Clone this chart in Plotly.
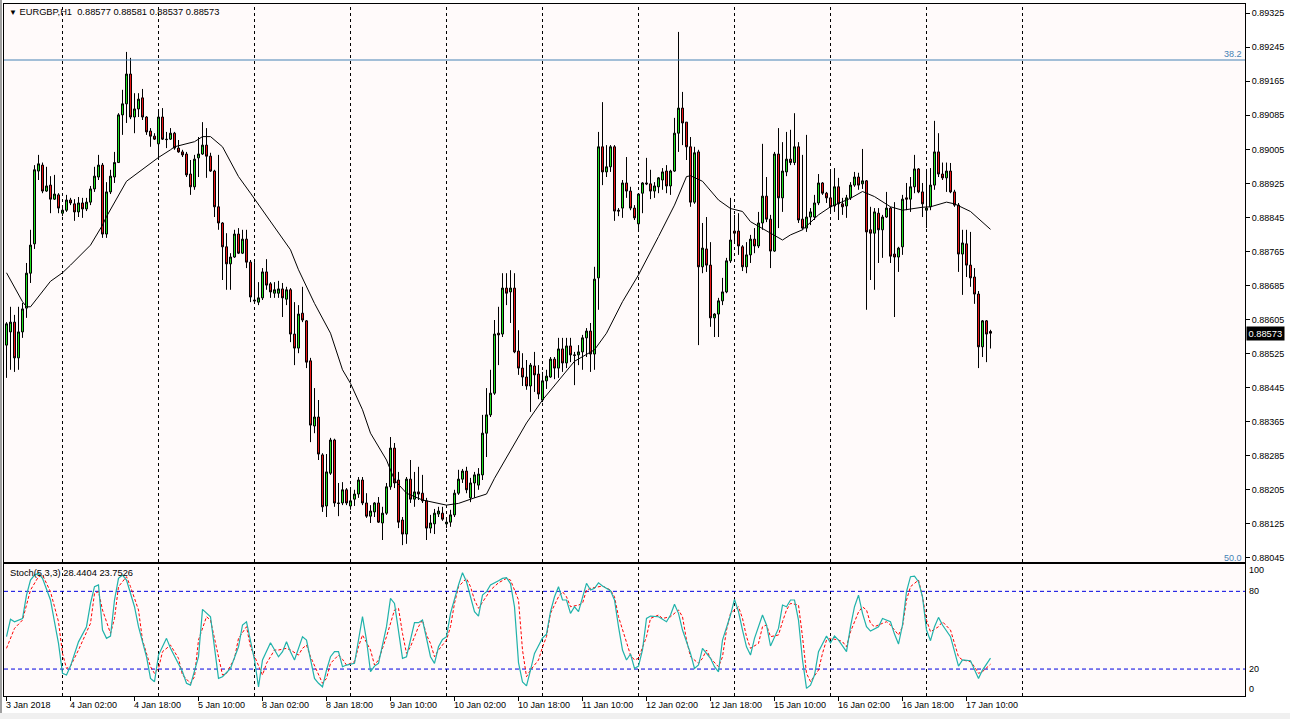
import plotly.graph_objects as go

# ---------------- data (EURGBP H1) ----------------
open_ = [0.88545,0.88576,0.88599,0.88515,0.88576,0.88632,0.88714,0.88783,0.88954,0.88968,
         0.88907,0.88921,0.88888,0.88898,0.88855,0.88862,0.88886,0.88877,0.88858,0.88879,
         0.88865,0.88881,0.88912,0.88940,0.88968,0.88806,0.88905,0.88940,0.88974,0.89086,
         0.89112,0.89182,0.89081,0.89100,0.89126,0.89081,0.89048,0.89036,0.89018,0.89081,
         0.89029,0.89029,0.89043,0.89008,0.88999,0.88994,0.88947,0.88917,0.88985,0.88994,
         0.89015,0.88989,0.88954,0.88870,0.88832,0.88776,0.88736,0.88752,0.88806,0.88761,
         0.88794,0.88740,0.88651,0.88646,0.88656,0.88717,0.88689,0.88667,0.88667,0.88677,
         0.88653,0.88675,0.88571,0.88538,0.88620,0.88602,0.88508,0.88355,0.88376,0.88287,
         0.88167,0.88244,0.88322,0.88174,0.88174,0.88205,0.88167,0.88183,0.88195,0.88228,
         0.88174,0.88143,0.88153,0.88174,0.88127,0.88150,0.88212,0.88303,0.88228,0.88134,
         0.88101,0.88230,0.88183,0.88200,0.88197,0.88179,0.88115,0.88125,0.88148,0.88150,
         0.88125,0.88129,0.88146,0.88197,0.88230,0.88249,0.88186,0.88221,0.88216,0.88240,
         0.88338,0.88381,0.88432,0.88573,0.88571,0.88679,0.88670,0.88679,0.88531,0.88491,
         0.88470,0.88449,0.88496,0.88477,0.88416,0.88461,0.88470,0.88512,0.88491,0.88536,
         0.88503,0.88543,0.88522,0.88522,0.88529,0.88562,0.88578,0.88524,0.88703,0.89011,
         0.88952,0.88964,0.89011,0.88862,0.88867,0.88926,0.88907,0.88867,0.88830,0.88902,
         0.88926,0.88924,0.88907,0.88917,0.88933,0.88954,0.88919,0.88954,0.89043,0.89102,
         0.89069,0.89011,0.88881,0.88999,0.88729,0.88771,0.88733,0.88609,0.88618,0.88649,
         0.88670,0.88743,0.88813,0.88813,0.88776,0.88729,0.88757,0.88794,0.88778,0.88832,
         0.88895,0.88841,0.88766,0.88994,0.88891,0.88952,0.88982,0.88974,0.89011,0.88841,
         0.88820,0.88846,0.88846,0.88879,0.88926,0.88902,0.88891,0.88872,0.88917,0.88877,
         0.88872,0.88891,0.88921,0.88940,0.88924,0.88931,0.88816,0.88808,0.88855,0.88816,
         0.88846,0.88867,0.88759,0.88752,0.88776,0.88891,0.88888,0.88917,0.88959,0.88905,
         0.88862,0.88870,0.88921,0.88999,0.88947,0.88938,0.88954,0.88905,0.88874,0.88759,
         0.88783,0.88733,0.88705,0.88665,0.88541,0.88602,0.88577]
high = [0.88599,0.88635,0.88616,0.88635,0.88644,0.88738,0.88816,0.88968,0.88992,0.88974,
        0.88964,0.88942,0.88945,0.88902,0.88867,0.88898,0.88891,0.88888,0.88893,0.88891,
        0.88891,0.88919,0.88964,0.88992,0.88973,0.88928,0.88957,0.88999,0.89090,0.89145,
        0.89234,0.89220,0.89137,0.89137,0.89147,0.89083,0.89055,0.89043,0.89093,0.89102,
        0.89046,0.89055,0.89046,0.89027,0.89004,0.88999,0.88980,0.88992,0.89034,0.89069,
        0.89055,0.88997,0.88957,0.88992,0.88834,0.88808,0.88761,0.88816,0.88820,0.88816,
        0.88816,0.88745,0.88740,0.88693,0.88726,0.88747,0.88693,0.88693,0.88696,0.88691,
        0.88682,0.88679,0.88646,0.88639,0.88682,0.88604,0.88515,0.88444,0.88416,0.88291,
        0.88289,0.88327,0.88325,0.88221,0.88223,0.88209,0.88205,0.88205,0.88235,0.88235,
        0.88197,0.88169,0.88176,0.88188,0.88165,0.88221,0.88329,0.88315,0.88247,0.88141,
        0.88235,0.88275,0.88247,0.88259,0.88240,0.88186,0.88146,0.88160,0.88165,0.88165,
        0.88141,0.88158,0.88205,0.88252,0.88254,0.88259,0.88233,0.88247,0.88256,0.88381,
        0.88444,0.88487,0.88604,0.88635,0.88714,0.88714,0.88721,0.88714,0.88580,0.88526,
        0.88510,0.88503,0.88529,0.88498,0.88482,0.88487,0.88517,0.88517,0.88562,0.88562,
        0.88562,0.88562,0.88529,0.88545,0.88569,0.88585,0.88597,0.88729,0.89046,0.89116,
        0.89015,0.89015,0.89015,0.88867,0.88933,0.88987,0.88917,0.88874,0.88902,0.88928,
        0.88985,0.88957,0.88928,0.88940,0.88961,0.88968,0.88957,0.89079,0.89281,0.89140,
        0.89069,0.89034,0.89011,0.89004,0.88832,0.88846,0.88787,0.88620,0.88656,0.88703,
        0.88750,0.88891,0.88851,0.88855,0.88780,0.88787,0.88804,0.88820,0.88858,0.89018,
        0.88940,0.88851,0.88999,0.89055,0.89022,0.89046,0.89051,0.89090,0.89022,0.88992,
        0.89039,0.88867,0.88898,0.88947,0.88928,0.88905,0.88952,0.88961,0.88938,0.88891,
        0.88898,0.88928,0.88952,0.88950,0.89006,0.88933,0.88870,0.88867,0.88867,0.88851,
        0.88905,0.88870,0.88881,0.88776,0.88898,0.88926,0.88940,0.88992,0.88961,0.88926,
        0.88959,0.88961,0.89072,0.89043,0.88974,0.88974,0.88973,0.88910,0.88879,0.88816,
        0.88816,0.88811,0.88726,0.88672,0.88604,0.88604,0.88581]
low = [0.88468,0.88487,0.88482,0.88487,0.88562,0.88609,0.88691,0.88771,0.88933,0.88902,
       0.88905,0.88855,0.88886,0.88855,0.88848,0.88858,0.88874,0.88837,0.88846,0.88844,
       0.88860,0.88874,0.88905,0.88933,0.88797,0.88797,0.88900,0.88926,0.88973,0.89039,
       0.89067,0.89076,0.89043,0.89081,0.89074,0.89039,0.89011,0.89027,0.88987,0.89027,
       0.89008,0.89027,0.89004,0.88997,0.88987,0.88940,0.88898,0.88910,0.88940,0.88992,
       0.88938,0.88952,0.88846,0.88816,0.88698,0.88675,0.88675,0.88750,0.88759,0.88759,
       0.88726,0.88646,0.88644,0.88639,0.88651,0.88675,0.88656,0.88656,0.88656,0.88611,
       0.88639,0.88552,0.88498,0.88526,0.88599,0.88491,0.88317,0.88338,0.88275,0.88153,
       0.88141,0.88240,0.88165,0.88143,0.88169,0.88169,0.88158,0.88167,0.88186,0.88169,
       0.88139,0.88127,0.88141,0.88127,0.88087,0.88146,0.88205,0.88209,0.88115,0.88075,
       0.88078,0.88174,0.88165,0.88181,0.88174,0.88087,0.88103,0.88101,0.88141,0.88132,
       0.88115,0.88118,0.88141,0.88193,0.88221,0.88197,0.88176,0.88186,0.88205,0.88228,
       0.88282,0.88376,0.88428,0.88498,0.88564,0.88639,0.88597,0.88526,0.88475,0.88449,
       0.88440,0.88388,0.88435,0.88418,0.88411,0.88442,0.88468,0.88465,0.88468,0.88482,
       0.88491,0.88505,0.88451,0.88498,0.88487,0.88517,0.88482,0.88487,0.88628,0.88921,
       0.88940,0.88952,0.88837,0.88848,0.88844,0.88891,0.88862,0.88839,0.88818,0.88855,
       0.88921,0.88888,0.88891,0.88902,0.88910,0.88902,0.88898,0.88952,0.88999,0.89015,
       0.88980,0.88870,0.88877,0.88545,0.88714,0.88717,0.88588,0.88564,0.88564,0.88639,
       0.88667,0.88738,0.88787,0.88757,0.88719,0.88714,0.88738,0.88761,0.88773,0.88816,
       0.88834,0.88726,0.88764,0.88820,0.88858,0.88942,0.88968,0.88968,0.88832,0.88816,
       0.88811,0.88827,0.88839,0.88874,0.88898,0.88879,0.88855,0.88858,0.88839,0.88851,
       0.88844,0.88886,0.88917,0.88910,0.88912,0.88628,0.88698,0.88675,0.88738,0.88750,
       0.88844,0.88738,0.88611,0.88717,0.88757,0.88862,0.88858,0.88902,0.88902,0.88846,
       0.88820,0.88862,0.88910,0.88940,0.88933,0.88905,0.88902,0.88870,0.88717,0.88663,
       0.88705,0.88682,0.88642,0.88491,0.88517,0.88505,0.88537]
close = [0.88595,0.88599,0.88515,0.88576,0.88630,0.88714,0.88780,0.88957,0.88971,0.88907,
         0.88919,0.88888,0.88900,0.88867,0.88862,0.88886,0.88879,0.88858,0.88879,0.88865,
         0.88881,0.88912,0.88942,0.88968,0.88806,0.88905,0.88942,0.88974,0.89086,0.89112,
         0.89182,0.89081,0.89100,0.89123,0.89081,0.89046,0.89036,0.89029,0.89081,0.89029,
         0.89028,0.89043,0.89008,0.88999,0.88992,0.88945,0.88917,0.88982,0.88994,0.89015,
         0.88989,0.88954,0.88870,0.88832,0.88776,0.88736,0.88752,0.88806,0.88761,0.88794,
         0.88740,0.88658,0.88649,0.88656,0.88717,0.88686,0.88670,0.88675,0.88677,0.88656,
         0.88675,0.88571,0.88538,0.88618,0.88604,0.88505,0.88357,0.88376,0.88289,0.88165,
         0.88247,0.88322,0.88174,0.88173,0.88205,0.88174,0.88179,0.88195,0.88228,0.88174,
         0.88143,0.88155,0.88174,0.88129,0.88150,0.88212,0.88303,0.88221,0.88129,0.88101,
         0.88230,0.88183,0.88200,0.88195,0.88179,0.88115,0.88127,0.88150,0.88155,0.88136,
         0.88129,0.88146,0.88197,0.88230,0.88249,0.88205,0.88221,0.88240,0.88242,0.88338,
         0.88381,0.88432,0.88571,0.88569,0.88679,0.88667,0.88679,0.88529,0.88491,0.88470,
         0.88449,0.88498,0.88475,0.88430,0.88461,0.88472,0.88512,0.88491,0.88536,0.88503,
         0.88543,0.88522,0.88521,0.88529,0.88562,0.88578,0.88524,0.88700,0.89011,0.88952,
         0.88964,0.89011,0.88860,0.88860,0.88926,0.88907,0.88867,0.88844,0.88900,0.88926,
         0.88924,0.88907,0.88919,0.88938,0.88952,0.88919,0.88954,0.89043,0.89102,0.89067,
         0.89011,0.88881,0.88997,0.88729,0.88773,0.88733,0.88609,0.88618,0.88649,0.88670,
         0.88743,0.88792,0.88808,0.88778,0.88729,0.88757,0.88794,0.88778,0.88832,0.88895,
         0.88841,0.88766,0.88994,0.88891,0.88954,0.88982,0.88974,0.89011,0.88839,0.88820,
         0.88846,0.88858,0.88879,0.88926,0.88902,0.88891,0.88870,0.88917,0.88877,0.88870,
         0.88891,0.88921,0.88940,0.88921,0.88931,0.88811,0.88808,0.88858,0.88816,0.88846,
         0.88867,0.88754,0.88752,0.88773,0.88888,0.88888,0.88917,0.88959,0.88905,0.88877,
         0.88867,0.88921,0.88999,0.88947,0.88938,0.88954,0.88905,0.88874,0.88759,0.88785,
         0.88733,0.88703,0.88665,0.88541,0.88602,0.88571,0.88573]

# moving average (read at turning points)
ma_x = [0, 4, 5, 6, 11, 14, 16, 21, 24, 25, 30, 34, 38, 41, 42, 47, 49, 51, 54, 58, 61, 71, 73, 77,
        81, 84, 86, 89, 91, 95, 97, 100, 104, 110, 113, 117, 120, 122, 130, 134, 142, 147, 150, 154,
        158, 163, 167, 170, 171, 174, 178, 181, 184, 186, 191, 194, 196, 199, 203, 206, 211, 214,
        217, 221, 224, 229, 231, 235, 237, 241, 246]
ma_val = [0.88715, 0.88647, 0.88635, 0.88635, 0.88695, 0.88715, 0.88733, 0.88780, 0.88827, 0.88847,
          0.88930, 0.88957, 0.88986, 0.89004, 0.89011, 0.89023, 0.89035, 0.89035, 0.89011, 0.88941,
          0.88902, 0.88769, 0.88722, 0.88643, 0.88573, 0.88487, 0.88455, 0.88393, 0.88338, 0.88275,
          0.88228, 0.88197, 0.88181, 0.88169, 0.88173, 0.88186, 0.88195, 0.88232, 0.88362, 0.88416,
          0.88507, 0.88534, 0.88573, 0.88647, 0.88710, 0.88800, 0.88874, 0.88941, 0.88943, 0.88930,
          0.88886, 0.88866, 0.88859, 0.88835, 0.88808, 0.88792, 0.88804, 0.88816, 0.88851, 0.88870,
          0.88890, 0.88906, 0.88894, 0.88870, 0.88862, 0.88869, 0.88870, 0.88881, 0.88877, 0.88859,
          0.88817]

# Stochastic(5,3,3)
k_x = [0,1,2,3,4,5,6,7,8,9,11,12,13,14,15,16,18,20,21,22,23,24,25,26,27,28,29,30,32,33,35,36,37,38,
       40,41,44,45,46,48,49,51,52,53,54,56,58,59,60,61,62,63,64,66,67,68,69,70,71,72,73,74,75,76,77,
       78,79,80,81,82,83,84,85,87,88,89,90,91,92,93,95,96,97,98,99,100,102,103,104,106,107,108,109,
       110,111,113,114,115,116,117,118,119,120,121,123,124,125,126,127,128,129,130,131,132,133,134,
       135,136,137,138,139,140,141,142,143,144,145,146,147,148,149,151,152,153,154,155,156,157,158,
       159,160,161,163,165,166,167,168,169,171,172,173,174,176,177,178,179,181,182,183,184,185,186,
       187,189,190,191,192,193,194,195,196,197,198,199,200,201,202,203,205,206,207,208,210,211,212,
       213,214,215,216,218,219,221,222,223,224,225,226,227,228,229,230,231,232,233,234,236,238,239,
       241,242,243,244,246]
stoch_k = [45,58.4,56.5,57.8,59,77,88.7,92.6,93.9,90,73.3,56.5,39.8,16.7,15.4,22.3,41,52.7,70.7,83.6,
           84.9,50.1,43.7,45.5,73.3,90,92.6,88.7,68.1,52.7,29.5,12.8,10.2,30.8,43.7,36,17.9,9,7.6,29.5,
           66.1,60.4,37.2,12.8,14.1,20.5,37.2,54,56.5,42.4,27,6.3,27,40.3,34.7,29.5,33.4,41.1,33.4,27,
           36,44.9,42.4,27,12.8,9,6.3,19.2,29.5,33.4,33.4,21.8,23.1,24.4,42.4,60.4,42.4,17.9,22.3,24.4,
           52.7,74.6,70.7,47.5,28.3,29.5,55.8,55.8,57.8,29.5,24.4,37.2,42.9,45,63,84.9,94.4,87.4,75.8,
           64.3,60.9,77.1,79.7,84.9,88.2,90,90.5,86,68,25,10,7,19.2,32.1,38,44,47,64.3,75.8,83.6,73.3,
           73.3,63,68.1,64.3,75.8,86.2,81,82.3,86.6,84.1,80.5,73.3,52.7,34.7,27,31.6,20.5,22.3,34.7,
           59.1,60.9,60.4,56.5,61.7,70,63,50.1,32.1,20.5,23.1,36,28.3,21.8,17.9,42.4,61.7,73.8,64.3,
           50.1,37.2,30.8,43.7,61.7,54,37.8,45,51.4,69.4,68.1,73.3,73.3,57.8,27,5.1,7.6,15.4,33.4,45.5,
           40.3,45.5,42.4,33.4,52.7,68.1,77.1,63,52.7,49.3,52.7,59.1,56.5,47,39.3,54,79.7,91.3,91.8,
           87.4,75.8,50.1,41.9,52.7,59.9,54,45,22.3,27,26.4,19.2,12.8,19.2,28.4404]
d_x = [0,2,4,6,8,9,11,13,14,15,16,18,21,22,23,24,26,27,28,30,31,33,34,36,37,38,39,41,43,44,46,47,48,
       50,51,53,54,55,57,58,60,61,63,64,65,67,68,70,71,73,74,75,76,78,79,80,81,83,84,85,87,88,89,91,
       92,93,95,97,98,99,100,101,103,104,105,106,107,108,110,111,112,113,115,116,117,118,120,121,
       123,125,126,128,129,130,131,133,134,135,136,138,139,140,141,143,144,145,146,148,149,151,152,
       153,155,156,157,158,160,161,163,164,166,168,169,170,171,173,174,175,176,178,179,180,181,183,
       184,185,186,188,189,190,191,193,194,195,196,198,199,200,201,203,204,205,206,208,209,210,211,
       213,214,215,216,217,219,220,221,223,224,225,226,228,229,230,231,233,234,236,237,238,239,241,
       242,243,244,246]
stoch_d = [36,51.4,57.8,81,91.3,92.6,79.7,56.5,32.1,20.5,22.3,34.7,55.3,78.4,79.7,65.6,47.5,59.1,
           83.6,91.3,83.6,65.6,42.4,21.8,16.7,20.5,33.4,38.5,28.3,15.4,9,14.1,42.4,60.4,57.8,29.5,15.4,
           16.7,28.3,43.7,52.7,37.2,21.8,15.4,24.4,34.7,34.7,36,34.7,30.8,36,38.5,29.5,15.4,9,12.8,24.4,
           30.8,27.5,23.1,25.7,37.2,46.3,34.7,23.1,27,45,65.6,66.9,47.5,32.1,37.2,52.7,57.8,46.3,39.8,
           29.5,34.7,42.4,52.7,70.7,83.6,90,83.6,73.3,66.9,75.8,81,86.6,90,88.7,73.3,34.7,14.1,19.2,27,
           36.9,45,63,75.8,79.7,75.8,68.1,69.4,70.7,81,82.3,83.6,84.1,81,75.8,60.4,39.8,30.8,27,28.3,45,
           59.1,61.7,59.1,60.4,65.6,60.4,42.4,29.5,24.4,28.3,34.7,28.3,21.8,29.5,50.1,63,68.1,59.1,45,
           36,39.8,52.7,54,45,46.3,56.5,65.6,70.7,69.4,45,16.7,10.3,19.2,32.1,42.4,43.7,42.4,41.1,37.2,
           48.8,64,68,65.6,55.3,52.7,55.3,56.5,54,46.3,52.7,73.3,83.6,88.7,75.8,57.8,48.8,52.7,56.5,
           50.1,39.8,29.5,27,25.7,21.8,16.7,18,23.7526]

# time axis
label_idx = [0, 16, 32, 48, 64, 80, 96, 112, 128, 144, 160, 176, 192, 208, 224, 240]
label_text = ["3 Jan 2018", "4 Jan 02:00", "4 Jan 18:00", "5 Jan 10:00", "8 Jan 02:00",
              "8 Jan 18:00", "9 Jan 10:00", "10 Jan 02:00", "10 Jan 18:00", "11 Jan 10:00",
              "12 Jan 02:00", "12 Jan 18:00", "15 Jan 10:00", "16 Jan 02:00", "16 Jan 18:00",
              "17 Jan 10:00"]
day_start_idx = [14, 38, 62, 86, 110, 134, 158, 182, 206, 230, 254]

price_ticks = [0.89325, 0.89245, 0.89165, 0.89085, 0.89005, 0.88925, 0.88845, 0.88765, 0.88685,
               0.88605, 0.88525, 0.88445, 0.88365, 0.88285, 0.88205, 0.88125, 0.88045]
fib_levels = ["38.2", "50.0"]
fib_prices = [0.89215, 0.88036]
stoch_levels = [20, 80]
stoch_labels = ["100", "80", "20", "0"]

# ---------------- styling ----------------
FONT = "Liberation Sans"
GREEN = "#1FE01F"
RED = "#EC1616"
PLOT_BG = "#FFFAFA"
FIB_COLOR = "#4682B4"
PLOT_L, PLOT_W, PLOT_T, PLOT_H = 4, 1241, 4, 692


def paper_x(px):
    return (px - PLOT_L) / PLOT_W


def paper_y(py):
    return (PLOT_T + PLOT_H - py) / PLOT_H


bars = list(range(len(open_)))

fig = go.Figure()
fig.add_trace(go.Candlestick(
    x=bars, open=open_, high=high, low=low, close=close,
    increasing=dict(fillcolor=GREEN, line=dict(color="black", width=1)),
    decreasing=dict(fillcolor=RED, line=dict(color="black", width=1)),
    whiskerwidth=0, hoverinfo="skip", xaxis="x", yaxis="y"))
fig.add_trace(go.Scatter(x=ma_x, y=ma_val, mode="lines",
                         line=dict(color="black", width=1), hoverinfo="skip",
                         xaxis="x", yaxis="y"))
fig.add_trace(go.Scatter(x=d_x, y=stoch_d, mode="lines",
                         line=dict(color="#FF0000", width=1, dash="3px,2px"),
                         hoverinfo="skip", xaxis="x2", yaxis="y2"))
fig.add_trace(go.Scatter(x=k_x, y=stoch_k, mode="lines",
                         line=dict(color="#20B2AA", width=1.2),
                         hoverinfo="skip", xaxis="x2", yaxis="y2"))

shapes = []
for d in day_start_idx:
    for xr_, yr_ in (("x", "y domain"), ("x2", "y2 domain")):
        shapes.append(dict(type="line", xref=xr_, yref=yr_, x0=d, x1=d, y0=0, y1=1,
                           line=dict(color="black", width=1, dash="3px,3px"), layer="below"))
for lv in stoch_levels:
    shapes.append(dict(type="line", xref="x2 domain", yref="y2", x0=0, x1=1, y0=lv, y1=lv,
                       line=dict(color="#0000E0", width=1, dash="4px,3px"), layer="below"))
shapes.append(dict(type="line", xref="x domain", yref="y", x0=0, x1=1,
                   y0=fib_prices[0], y1=fib_prices[0], line=dict(color=FIB_COLOR, width=1)))
# window frame
shapes.append(dict(type="rect", xref="paper", yref="paper", x0=paper_x(0), x1=paper_x(2),
                   y0=paper_y(719), y1=paper_y(0), fillcolor="#A0A0A0", line=dict(width=0),
                   layer="below"))
shapes.append(dict(type="rect", xref="paper", yref="paper", x0=paper_x(0), x1=paper_x(1290),
                   y0=paper_y(719), y1=paper_y(713), fillcolor="#F0F0F0", line=dict(width=0),
                   layer="below"))

ann = []
nb = "\u00a0"
title_txt = ('<span style="font-size:8px">▼</span>' + nb + "EURGBP,H1" + nb + nb +
             nb.join(f"{v:.5f}" for v in (open_[-1], high[-1], low[-1], close[-1])))
ann.append(dict(text=title_txt, xref="paper", yref="paper", x=paper_x(7), y=paper_y(12.5),
                xanchor="left", yanchor="middle", showarrow=False,
                font=dict(family=FONT, size=9.3, color="black")))
ann.append(dict(text=f"Stoch(5,3,3){nb}{stoch_k[-1]:.4f}{nb}{stoch_d[-1]:.4f}",
                xref="paper", yref="paper", x=paper_x(8), y=paper_y(572.5),
                xanchor="left", yanchor="middle", showarrow=False,
                font=dict(family=FONT, size=9.3, color="black")))
ann.append(dict(text=fib_levels[0], xref="paper", yref="y", x=1, y=fib_prices[0],
                xanchor="right", yanchor="bottom", xshift=-1, yshift=-1, showarrow=False,
                font=dict(family=FONT, size=9, color=FIB_COLOR)))
ann.append(dict(text=fib_levels[1], xref="paper", yref="paper", x=1, y=paper_y(558),
                xanchor="right", yanchor="middle", xshift=-1, showarrow=False,
                font=dict(family=FONT, size=9, color=FIB_COLOR)))
ann.append(dict(text=f"{close[-1]:.5f}", xref="paper", yref="y", x=1, y=close[-1],
                xanchor="left", yanchor="middle", xshift=1, showarrow=False,
                bgcolor="black", borderpad=1.5,
                font=dict(family=FONT, size=9.3, color="white")))
for txt, val, ys in zip(stoch_labels, [100, 80, 20, 0], [-5, 0, 0, 6]):
    ann.append(dict(text=txt, xref="paper", yref="y2", x=1, y=val, yshift=ys,
                    xanchor="left", yanchor="middle", xshift=2, showarrow=False,
                    font=dict(family=FONT, size=9, color="black")))
for i, t in zip(label_idx, label_text):
    ann.append(dict(text=t, xref="x2", yref="paper", x=i, y=0, xanchor="left",
                    yanchor="top", xshift=-3, yshift=-2, showarrow=False,
                    font=dict(family=FONT, size=9, color="black")))

xr = [-0.625, 309.625]
fig.update_layout(
    template="none",
    width=1290, height=719,
    margin=dict(l=PLOT_L, r=45, t=PLOT_T, b=23, pad=0),
    paper_bgcolor="white", plot_bgcolor=PLOT_BG,
    showlegend=False, boxgap=0.5, boxgroupgap=0, hovermode=False,
    shapes=shapes, annotations=ann,
    xaxis=dict(domain=[0, 1], range=xr, anchor="y", showticklabels=False, ticks="",
               showgrid=False, zeroline=False, showline=True, linecolor="black", linewidth=1,
               mirror=True, rangeslider=dict(visible=False), automargin=False),
    xaxis2=dict(domain=[0, 1], range=xr, anchor="y2", tickvals=label_idx,
                ticktext=[""] * len(label_idx), ticks="outside", ticklen=4, tickcolor="black",
                showgrid=False, zeroline=False, showline=True, linecolor="black", linewidth=1,
                mirror=True, rangeslider=dict(visible=False), automargin=False),
    yaxis=dict(domain=[paper_y(562), 1], range=[0.880353, 0.893466], side="right",
               tickmode="array", tickvals=price_ticks,
               ticktext=[f"{v:.5f}" for v in price_ticks], ticks="outside", ticklen=4,
               tickcolor="black", showgrid=False, zeroline=False, showline=True,
               linecolor="black", linewidth=1, mirror=True, automargin=False,
               tickfont=dict(family=FONT, size=9, color="black")),
    yaxis2=dict(domain=[0, paper_y(564)], range=[-0.8, 101.1], side="right",
                showticklabels=False, ticks="", showgrid=False, zeroline=False, showline=True,
                linecolor="black", linewidth=1, mirror=True, automargin=False),
)

fig.write_html("out.html", config={"displayModeBar": False, "staticPlot": True},
               post_script="document.body.style.margin='0';"
               "document.body.style.overflow='hidden';")
